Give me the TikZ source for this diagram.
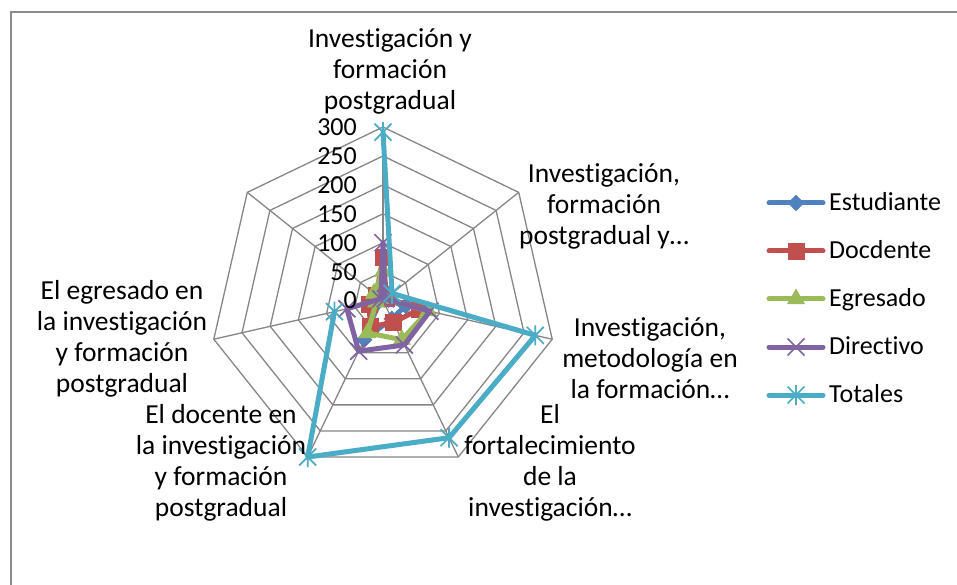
\documentclass[tikz,border=0pt]{standalone}
\usepackage{fontspec}
\setmainfont{Carlito}[Ligatures=NoCommon]
\usetikzlibrary{shapes.geometric}
\definecolor{gridgray}{HTML}{868686}
\definecolor{framegray}{HTML}{8C8C8C}
\definecolor{sblue}{HTML}{4F81BD}
\definecolor{sred}{HTML}{C0504D}
\definecolor{sgreen}{HTML}{9BBB59}
\definecolor{spurple}{HTML}{8064A2}
\definecolor{scyan}{HTML}{4BACC6}
\begin{document}
\begin{tikzpicture}[x=1pt,y=1pt,
  font=\fontsize{26}{31}\selectfont,
  gridline/.style={draw=gridgray, line width=1.3pt},
  series/.style={line width=5pt, line join=round, line cap=round},
  catlabel/.style={align=center, inner sep=0pt, font=\fontsize{27.5}{31}\selectfont},
  numlabel/.style={anchor=east, inner sep=0pt},
  legtext/.style={anchor=base west, inner sep=0pt},
  diamondmark/.style={diamond, aspect=1, fill=sblue, draw=sblue, minimum width=16pt, minimum height=16pt, inner sep=0pt},
  squaremark/.style={rectangle, fill=sred, draw=sred, minimum size=16pt, inner sep=0pt},
  trianglemark/.style={regular polygon, regular polygon sides=3, fill=sgreen, draw=sgreen, minimum size=20pt, inner sep=0pt},
  xm/.pic={\draw[spurple, line width=1.7pt] (-8.5,-8.5) -- (8.5,8.5) (-8.5,8.5) -- (8.5,-8.5);},
  starm/.pic={\draw[scyan, line width=1.7pt] (-8.5,-8.5) -- (8.5,8.5) (-8.5,8.5) -- (8.5,-8.5) (0,-10) -- (0,10);}
]
\useasboundingbox (0,0) rectangle (957,584);
\fill[white] (0,0) rectangle (957,584);
% outer frame
\draw[framegray, line width=1.6pt] (11,-20) -- (11,572) -- (990,572);

\begin{scope}[shift={(383,283.4)}]
  \coordinate (C) at (0,0);
  % rings
  \foreach \r in {1,...,6}{
    \draw[gridline] (90:\r*28.93) -- (90-360/7:\r*28.93) -- (90-2*360/7:\r*28.93)
      -- (90-3*360/7:\r*28.93) -- (90-4*360/7:\r*28.93) -- (90-5*360/7:\r*28.93)
      -- (90-6*360/7:\r*28.93) -- cycle;
  }
  % spokes
  \foreach \k in {0,...,6}{
    \coordinate (S\k) at (90-\k*360/7:173.6);
    \draw[gridline] (C) -- (S\k);
  }
  % data points
  \foreach \v [count=\k from 0] in {20,3,40,35,75,8,10}
    {\coordinate (E\k) at (90-\k*360/7:\v*0.5787);}
  \foreach \v [count=\k from 0] in {75,8,65,42,50,25,15}
    {\coordinate (D\k) at (90-\k*360/7:\v*0.5787);}
  \foreach \v [count=\k from 0] in {50,5,80,75,62,12,20}
    {\coordinate (G\k) at (90-\k*360/7:\v*0.5787);}
  \foreach \v [count=\k from 0] in {100,5,83,85,97,64,5}
    {\coordinate (R\k) at (90-\k*360/7:\v*0.5787);}
  \foreach \v [count=\k from 0] in {291,20,270,263,300,86}
    {\coordinate (T\k) at (90-\k*360/7:\v*0.5787);}
  % Estudiante
  \draw[series, sblue] (E0) -- (E1) -- (E2) -- (E3) -- (E4) -- (E5) -- (E6) -- cycle;
  \foreach \k in {0,...,6} \node[diamondmark] (Em\k) at (E\k) {};
  % Docdente
  \draw[series, sred] (D0) -- (D1) -- (D2) -- (D3) -- (D4) -- (D5) -- (D6) -- cycle;
  \foreach \k in {0,...,6} \node[squaremark] (Dm\k) at (D\k) {};
  % Egresado
  \draw[series, sgreen] (G0) -- (G1) -- (G2) -- (G3) -- (G4) -- (G5) -- (G6) -- cycle;
  \foreach \k in {0,...,6} \node[trianglemark] (Gm\k) at (G\k) {};
  % Directivo
  \draw[series, spurple] (R0) -- (R1) -- (R2) -- (R3) -- (R4) -- (R5) -- (R6) -- cycle;
  \foreach \k in {0,...,6} \pic at (R\k) {xm};
  % Totales
  \draw[series, scyan] (T0) -- (T1) -- (T2) -- (T3) -- (T4) -- (T5);
  \foreach \k in {0,...,5} \pic at (T\k) {starm};
\end{scope}

% axis numbers
\foreach \v in {0,50,100,150,200,250,300}
  \node[numlabel] (n\v) at (357,283.4+\v*0.5787) {\v};

% category labels
\node[catlabel] (L0) at (390,513) {Investigación y\\formación\\postgradual};
\node[catlabel] (L1) at (604,378) {Investigación,\\formación\\postgradual y…};
\node[catlabel] (L2) at (650,225.5) {Investigación,\\metodología en\\la formación…};
\node[catlabel] (L3) at (550,121) {El\\fortalecimiento\\de la\\investigación…};
\node[catlabel] (L4) at (221,121) {El docente en\\la investigación\\y formación\\postgradual};
\node[catlabel] (L5) at (122,245.5) {El egresado en\\la investigación\\y formación\\postgradual};

% legend
\draw[series, sblue] (769,381) -- (823,381);
\node[diamondmark] (lg1) at (796,381) {};
\node[legtext] (lt1) at (829,373.5) {Estudiante};
\draw[series, sred] (769,333) -- (823,333);
\node[squaremark] (lg2) at (796,333) {};
\node[legtext] (lt2) at (829,325.5) {Docdente};
\draw[series, sgreen] (769,285) -- (823,285);
\node[trianglemark] (lg3) at (796,285) {};
\node[legtext] (lt3) at (829,277.5) {Egresado};
\draw[series, spurple] (769,237) -- (823,237);
\pic at (796,237) {xm};
\node[legtext] (lt4) at (829,229.5) {Directivo};
\draw[series, scyan] (769,189) -- (823,189);
\pic at (796,189) {starm};
\node[legtext] (lt5) at (829,181.5) {Totales};
\end{tikzpicture}
\end{document}
